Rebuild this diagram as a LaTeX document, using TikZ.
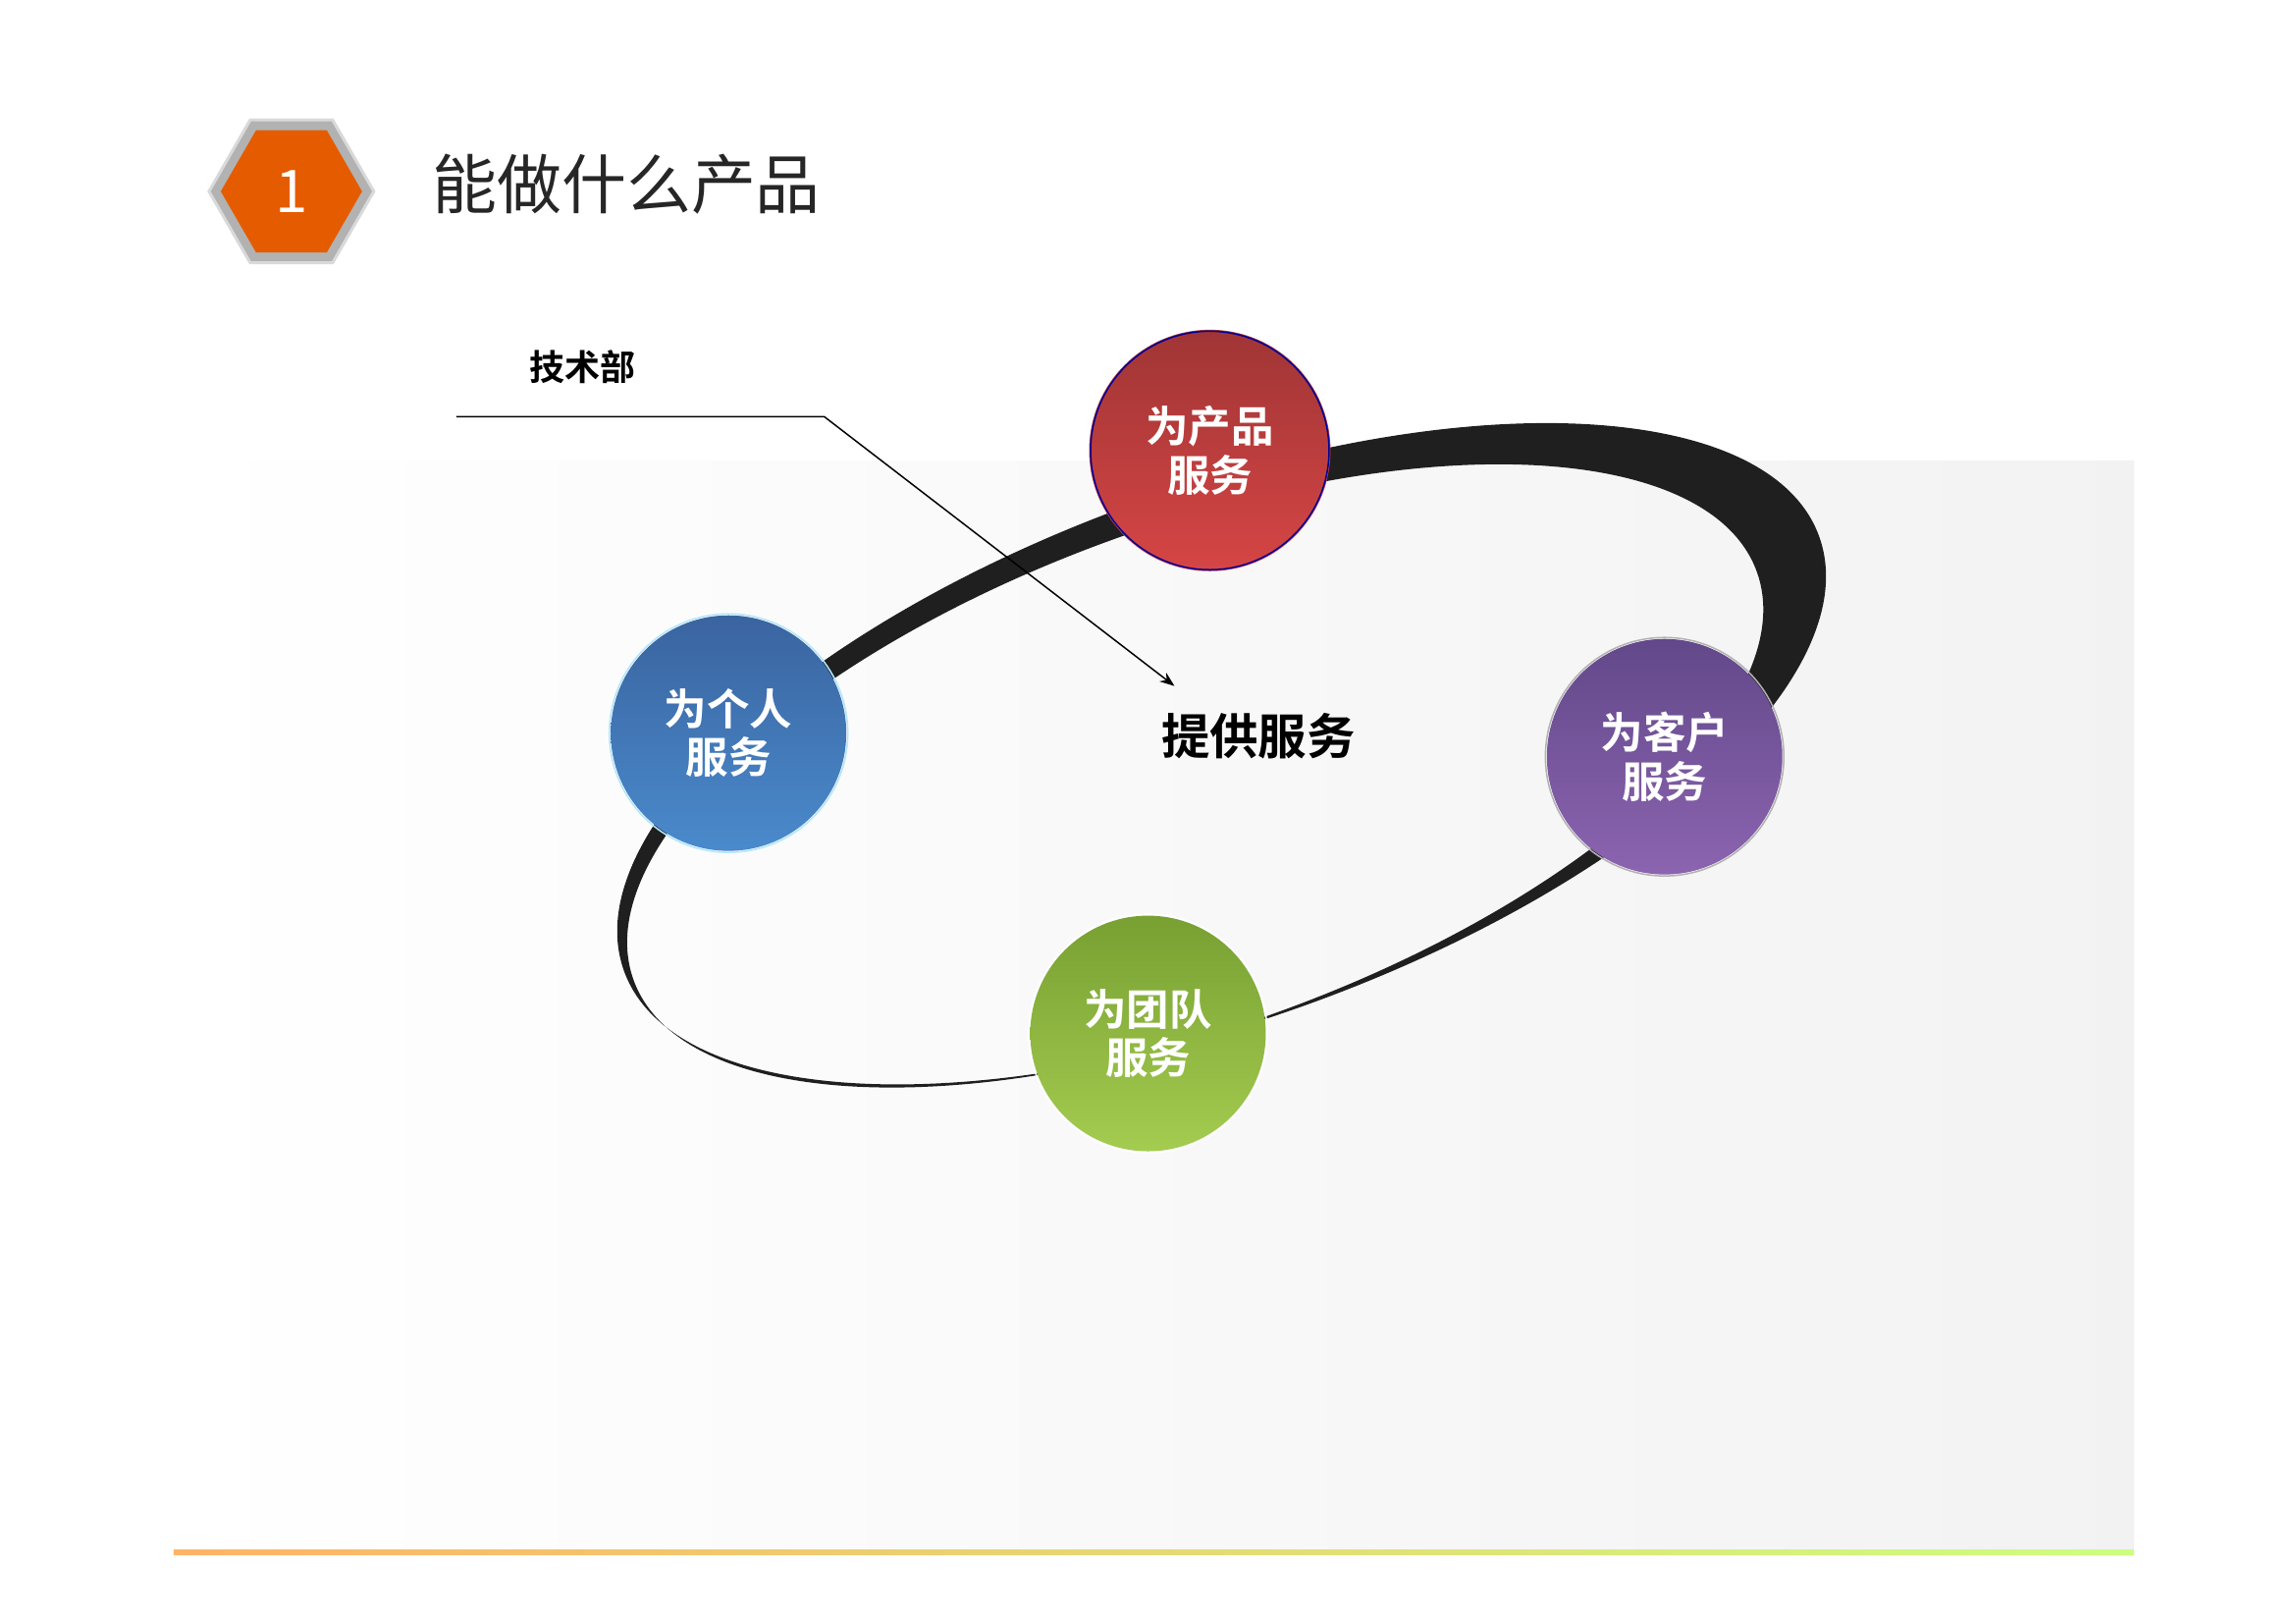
\documentclass[tikz,border=0pt]{standalone}
\usepackage{fontspec}
\newfontfamily\cjk{Noto Sans CJK SC}
\newfontfamily\cjkb{Noto Sans CJK SC Bold}
\usetikzlibrary{shapes.geometric,arrows.meta}
\definecolor{rt}{HTML}{A03535}\definecolor{rb}{HTML}{D64545}
\definecolor{bt}{HTML}{3A64A0}\definecolor{bb}{HTML}{4A8ACC}
\definecolor{pt}{HTML}{62488A}\definecolor{pb}{HTML}{8C64B0}
\definecolor{gt}{HTML}{78A032}\definecolor{gb}{HTML}{A4CC50}
\begin{document}
\begin{tikzpicture}[x=1pt,y=-1pt,
 svc/.style={circle,minimum size=162pt,inner sep=0pt,text=white,font=\cjkb\fontsize{29}{33}\selectfont,align=center,draw=white!70!black,line width=1pt},
 lbl/.style={font=\cjkb\fontsize{24}{28}\selectfont}]
\useasboundingbox (0,0) rectangle (1560,1103);
\shade[left color=white,right color=black!5] (118,313) rectangle (1450,1055);
\shade[left color=orange!60,right color=yellow!60!green!50] (118,1053) rectangle (1450,1056);
% hexagon
\node[regular polygon,regular polygon sides=6,minimum size=112pt,fill=black!30,draw=black!15,line width=2pt] (hexo) at (198,130) {};
\node[regular polygon,regular polygon sides=6,minimum size=96pt,fill=orange!80!red!90!black,text=white,font=\cjk\fontsize{40}{44}\selectfont] (hex) at (198,130) {1};
\node[anchor=west,font=\cjk\fontsize{44}{48}\selectfont,text=black!85] (title) at (290,125) {能做什么产品};
% ring
\begin{scope}[shift={(830,512)},rotate=20]
\fill[black!88,even odd rule] (0,0) ellipse[x radius=432,y radius=180]
 (-22,8) ellipse[x radius=406,y radius=170];
\end{scope}
% circles
\shade[top color=rt,bottom color=rb] (822,306) circle (82);
\node[svc,draw=blue!60!black] (p) at (822,306) {为产品\\服务};
\shade[top color=bt,bottom color=bb] (495,498) circle (80);
\node[svc,draw=cyan!30] (g) at (495,498) {为个人\\服务};
\shade[top color=pt,bottom color=pb] (1131,514) circle (80);
\node[svc] (k) at (1131,514) {为客户\\服务};
\shade[top color=gt,bottom color=gb] (780,702) circle (80);
\node[svc,draw=white] (t) at (780,702) {为团队\\服务};
% labels
\node[lbl] (js) at (396,249) {技术部};
\node[font=\cjkb\fontsize{33}{36}\selectfont] (tg) at (855,500) {提供服务};
\coordinate (l0) at (310,283);
\coordinate (l1) at (560,283);
\coordinate (l2) at (798,466);
\draw[line width=1pt,-{Stealth[length=10pt]}] (l0) -- (l1) -- (l2);
\end{tikzpicture}
\end{document}
